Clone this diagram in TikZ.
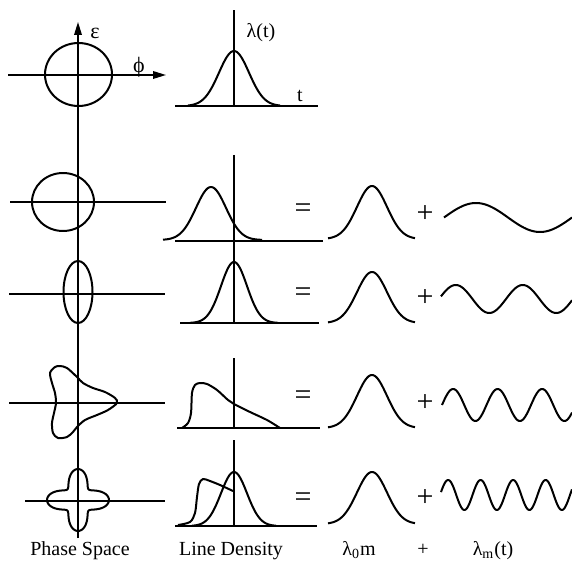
\documentclass[tikz,border=0pt]{standalone}
\usepackage{fontspec}
\setmainfont{Liberation Serif}
\usetikzlibrary{arrows.meta}
\tikzset{
  curve/.style={line width=1pt, line join=round},
  axis/.style={line width=0.8pt},
  tip/.style={-{Triangle[length=6.5pt,width=3.8pt]}},
  lab/.style={font=\fontsize{10}{12}\selectfont, inner sep=0pt},
  sign/.style={font=\fontsize{15}{17}\selectfont, inner sep=0pt},
}
%% gaussian bump: centre x, base y, height, sigma, domain
\newcommand{\bump}[5]{%
  \draw[curve] plot[domain=#5,samples=70,smooth]
    ({#1+\x},{#2-#3*exp(-(\x/#4)*(\x/#4)/2)});}
%% harmonic: start x, centre y, period, amplitude, origin x
\newcommand{\wave}[5]{%
  \draw[curve] plot[domain=#1:572,samples=160,smooth]
    (\x,{#2-#4*sin(((\x-#5)/#3)*360)});}

\begin{document}
\begin{tikzpicture}[x=0.5pt,y=-0.5pt]
  \useasboundingbox (0,0) rectangle (572,561);

  %% Phase space axes
  \draw[axis,tip] (78,538) -- (78,22);
  \draw[axis,tip] (8,75) -- (166,75);
  \draw[axis] (10,202) -- (166,202);
  \draw[axis] (9,294) -- (165,294);
  \draw[axis] (9,403) -- (165,403);
  \draw[axis] (25,501) -- (165,501);
  \node[lab,font=\fontsize{11}{12}\selectfont] (eps) at (95,33) {ε};
  \node[lab,font=\fontsize{11}{12}\selectfont] (phi) at (139,67) {ϕ};

  %% Phase space distributions
  \draw[curve] (78.5,74.5) ellipse [x radius=33.5, y radius=31.5];
  \draw[curve] (63,202) ellipse [x radius=31, y radius=29];
  \draw[curve] (78,292) ellipse [x radius=14.5, y radius=31];
  \draw[curve] plot[smooth cycle] coordinates {
    (55,367) (50,373) (52,383) (55,393) (56,403) (54,413) (52,423)
    (53,433) (58,438) (67,437) (73,432) (77,427) (85,420) (97,415)
    (108,410) (117,403) (115,398) (105,392) (93,388) (83,383)
    (77,377) (67,368) (60,366)};
  \draw[curve] plot[domain=0:360,samples=120,smooth cycle]
    ({78+(23+8*cos(4*\x))*cos(\x)},{500+(23+8*cos(4*\x))*sin(\x)});

  %% Line density axes
  \draw[axis] (175,106) -- (318,106);
  \draw[axis] (234,106) -- (234,10);
  \node[lab] (lam) at (261,33) {λ(t)};
  \node[lab] (tim) at (300,96) {t};
  \draw[axis] (175,241) -- (323,241);
  \draw[axis] (234,155) -- (234,323);
  \draw[axis] (180,323) -- (319,323);
  \draw[axis] (177,428) -- (320,428);
  \draw[axis] (234,358) -- (234,428);
  \draw[axis] (175,526) -- (317,526);
  \draw[axis] (234,440) -- (234,526);

  %% Line densities
  \bump{234}{106}{55}{15}{-46:46}
  \bump{211}{240}{53}{15}{-48:51}
  \bump{234}{323}{61}{13}{-44:44}
  \draw[curve] plot[smooth] coordinates {
    (182,428) (188,423) (191,413) (192,393) (195,385) (200,383)
    (207,384) (217,390) (228,400) (234,404) (250,412) (267,420) (280,428)};
  \bump{234}{526}{54}{13}{-42:42}
  \draw[curve] plot[smooth] coordinates {
    (178,525) (190,522) (195,513) (197,497) (199,484) (203,479)
    (210,481) (220,485) (233,491)};

  %% Equals
  \node[sign] (eq2) at (303,211) {=};
  \node[sign] (eq3) at (303,295) {=};
  \node[sign] (eq4) at (303,398) {=};
  \node[sign] (eq5) at (303,500) {=};

  %% Unperturbed bunch
  \bump{372}{239}{53}{15}{-44:43}
  \bump{372}{323}{51}{15}{-44:43}
  \bump{372}{428}{53}{15}{-44:43}
  \bump{372}{524}{52}{15}{-44:43}

  %% Plus
  \node[sign] (pl2) at (425,214) {+};
  \node[sign] (pl3) at (425,298) {+};
  \node[sign] (pl4) at (425,403) {+};
  \node[sign] (pl5) at (425,498) {+};

  %% Harmonics
  \wave{444}{217.5}{128}{14.5}{444}
  \wave{441}{299}{67}{14}{439}
  \wave{442}{405}{44.5}{16}{442}
  \wave{441}{495}{32.5}{15}{440}

  %% Column titles
  \node[lab,anchor=base] (ps)  at (80,555)  {Phase Space};
  \node[lab,anchor=base] (ld)  at (231,555) {Line Density};
  \node[lab,anchor=base] (l0)  at (359,555) {λ\textsubscript{0}m};
  \node[lab,anchor=base] (pls) at (423,555) {+};
  \node[lab,anchor=base] (lm)  at (493,555) {λ\textsubscript{m}(t)};
\end{tikzpicture}
\end{document}
